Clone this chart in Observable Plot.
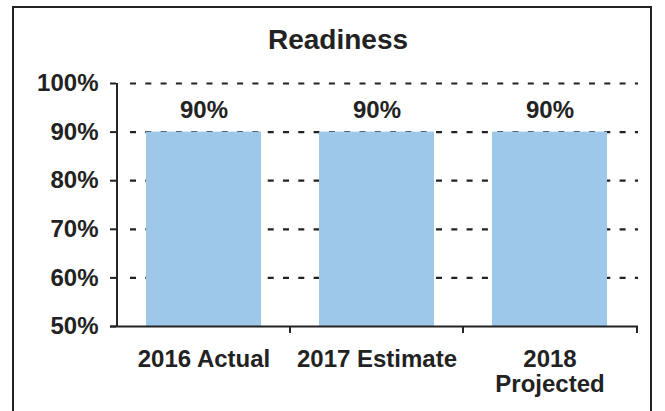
<!DOCTYPE html>
<html><head><meta charset="utf-8">
<script src="https://cdn.jsdelivr.net/npm/d3@7"></script>
<script src="https://cdn.jsdelivr.net/npm/@observablehq/plot@0.6"></script>
<style>
html,body{margin:0;padding:0;background:#fff;}
#wrap{position:relative;width:665px;height:411px;overflow:hidden;font-family:"Liberation Sans",Arial,sans-serif;color:#222;}
#frame{position:absolute;left:12px;top:6px;width:640px;height:430px;border:2px solid #222;box-sizing:border-box;}
#title{position:absolute;left:12px;width:652px;top:26px;text-align:center;font-size:28px;font-weight:bold;line-height:28px;}
#chart{position:absolute;left:0;top:0;}
</style></head><body>
<div id="wrap"><div id="frame"></div><div id="chart"></div><div id="title">Readiness</div></div>
<script>
// Data
const categories = ["2016 Actual", "2017 Estimate", "2018 Projected"];
const tickLabels = ["2016 Actual", "2017 Estimate", "2018\nProjected"];
const readiness = [0.90, 0.90, 0.90];
const yTicks = [0.5, 0.6, 0.7, 0.8, 0.9, 1.0];
const gridValues = [0.6, 0.7, 0.8, 0.9, 1.0];
const yDomain = [0.5, 1.0];

const data = categories.map((c, i) => ({category: c, value: readiness[i]}));

const W = 665, H = 411, mL = 116, mR = 27, mT = 83, mB = 85;
const pInner = 0.335, pOuter = 0.168;
const step = (W - mL - mR) / (categories.length - pInner + 2 * pOuter);
const ink = "#222";
const pct = d => Math.round(d * 100) + "%";

const chart = Plot.plot({
  width: W, height: H,
  marginLeft: mL, marginRight: mR, marginTop: mT, marginBottom: mB,
  style: {fontFamily: "'Liberation Sans', Arial, sans-serif", fontSize: "24px", fontWeight: "bold", color: ink, background: "transparent"},
  x: {domain: categories, paddingInner: pInner, paddingOuter: pOuter, label: null},
  y: {domain: yDomain, label: null},
  marks: [
    Plot.ruleY(gridValues, {y: d => d, stroke: ink, strokeWidth: 2.2, strokeDasharray: "6,9.3", insetLeft: 14}),
    Plot.barY(data, {x: "category", y1: yDomain[0], y2: "value", fill: "#9ec8ea"}),
    Plot.ruleY([yDomain[0]], {y: d => d, stroke: ink, strokeWidth: 2, insetLeft: -6}),
    Plot.ruleX([categories[0]], {x: d => d, dx: -step / 2, y1: yDomain[1], y2: yDomain[0], stroke: ink, strokeWidth: 2, insetBottom: -1}),
    Plot.ruleX(categories.slice(1), {x: d => d, dx: -step / 2, y1: yDomain[0], y2: yDomain[0], insetBottom: -7, stroke: ink, strokeWidth: 2}),
    Plot.ruleX([categories[categories.length - 1]], {x: d => d, dx: step / 2, y1: yDomain[0], y2: yDomain[0], insetBottom: -7, stroke: ink, strokeWidth: 2}),
    Plot.axisY(yTicks, {tickSize: 6, tickPadding: 12, tickFormat: pct, fontSize: 24, fontWeight: "bold", strokeWidth: 2, stroke: ink, label: null}),
    Plot.axisX({tickSize: 0, tickPadding: 23, tickFormat: d => tickLabels[categories.indexOf(d)], fontSize: 24, fontWeight: "bold", lineHeight: 1.03, label: null}),
    Plot.text(data, {x: "category", y: "value", text: d => pct(d.value), dy: -14, lineAnchor: "bottom", fontSize: 24, fontWeight: "bold", fill: ink})
  ]
});
document.getElementById("chart").appendChild(chart);
</script>
</body></html>
